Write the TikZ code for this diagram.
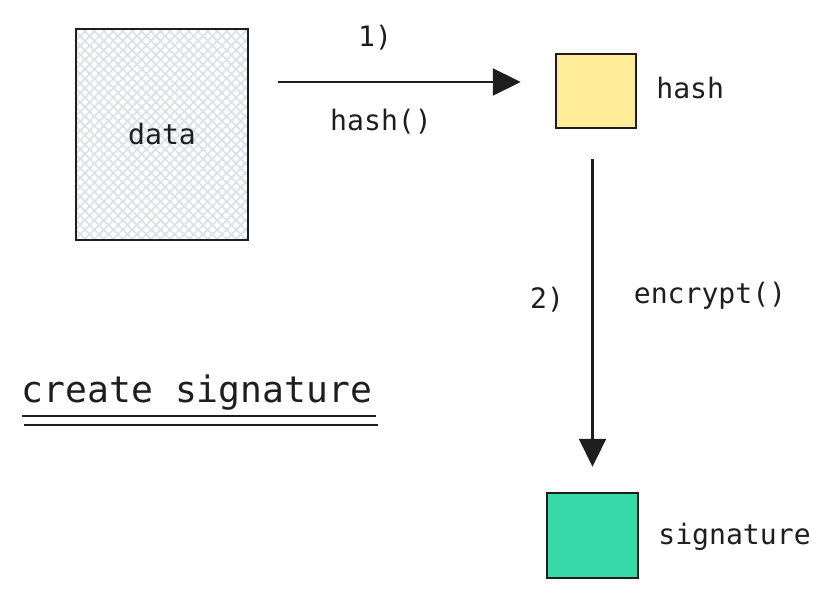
\documentclass[tikz,border=0pt]{standalone}
\usepackage{fontspec}
\setmonofont{DejaVu Sans Mono}
\usepackage{xcolor}
\usetikzlibrary{arrows.meta, positioning, patterns.meta}
\definecolor{inkblack}{HTML}{1E1E1E}
\definecolor{hashyellow}{HTML}{FFEC99}
\definecolor{sigteal}{HTML}{38D9A9}
\definecolor{hatchgray}{HTML}{DCE1E8}

\begin{document}
\begin{tikzpicture}[
        box/.style={draw=inkblack, line width=1.4pt, inner sep=0pt},
        hatched/.style={box,
                        preaction={pattern={Lines[angle=45, distance=3.8pt, line width=1pt]}, pattern color=hatchgray},
                        preaction={pattern={Lines[angle=-45, distance=3.8pt, line width=1pt]}, pattern color=hatchgray}},
        lbl/.style={font=\ttfamily\fontsize{16}{18}\selectfont, text=inkblack, inner sep=0pt},
        arrow/.style={-{Triangle[length=0.56cm, width=0.54cm]}, line width=1.2pt, draw=inkblack, fill=inkblack}
      ]
        \useasboundingbox (0,0) rectangle (16.72,-11.96);
        \node[hatched, minimum width=3.44cm, minimum height=4.22cm] (data) at (3.24,-2.69) {};
        \node[lbl] at (data) {data};
        \node[box, fill=hashyellow, minimum width=1.6cm, minimum height=1.48cm] (hash) at (11.92,-1.82) {};
        \node[box, fill=sigteal, minimum width=1.82cm, minimum height=1.7cm] (sig) at (11.85,-10.71) {};
        \node[lbl, anchor=west] (hashtxt) at (13.12,-1.76) {hash};
        \node[lbl, anchor=west] (sigtxt) at (13.16,-10.74) {signature};
        \coordinate (arr1) at (0,-1.64);
        \node[lbl] (step1) at (7.5,-0.76) {1)};
        \node[lbl] (hashfn) at (7.62,-2.44) {hash()};
        \node[lbl] (step2) at (10.94,-6.0) {2)};
        \node[lbl] (encfn) at (14.2,-5.92) {encrypt()};
        \node[lbl, font=\ttfamily\fontsize{20.7}{24}\selectfont] (title) at (3.94,-7.86) {create signature};
        \draw[arrow, shorten <=0.58cm, shorten >=0.68cm] (data.east |- arr1) -- (hash.west |- arr1);
        \draw[arrow, shorten <=0.6cm, shorten >=0.5cm] (hash.south -| sig) -- (sig.north);
        \draw[inkblack, line width=1.3pt] ([xshift=0.02cm, yshift=-0.10cm]title.south west) -- ++(7.08,0);
        \draw[inkblack, line width=1.3pt] ([xshift=0.06cm, yshift=-0.28cm]title.south west) -- ++(7.08,0);
      \end{tikzpicture}
\end{document}
